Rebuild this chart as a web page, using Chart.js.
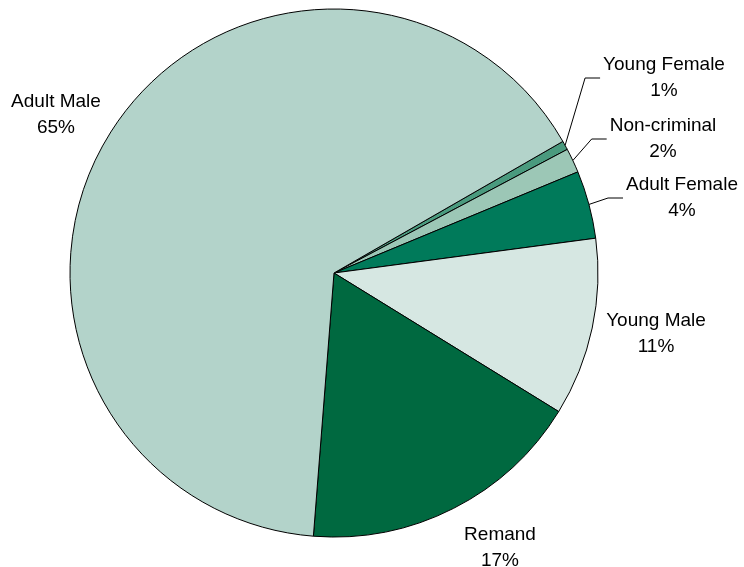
<!DOCTYPE html>
<html>
<head>
<meta charset="utf-8">
<script src="https://cdn.jsdelivr.net/npm/chart.js@4/dist/chart.umd.min.js"></script>
<style>
  body { margin: 0; background: #fff; }
  #wrap { width: 744px; height: 567px; }
</style>
</head>
<body>
<div id="wrap"><canvas id="prisonChart" width="744" height="567"></canvas></div>
<script>
// categories, clockwise from the thin slice at upper right
const categories = ["Young Female", "Non-criminal", "Adult Female", "Young Male", "Remand", "Adult Male"];
// share of population (%)
const shares = [0.55, 1.5, 4.15, 10.9, 17.45, 65.45];
const sliceColors = ['#4a9a7e', '#9cc7b6', '#007a5a', '#d6e7e2', '#006940', '#b3d3ca'];

// label block centre, relative to pie centre (px), and whether a leader line is drawn
const labelOffsets = [[330, -195], [329, -134], [348, -75], [322, 61], [166, 275], [-278, -158]];
const hasLeader = [true, true, true, false, false, false];

const labelPlugin = {
    id: 'pieLabels',
    afterDatasetsDraw(chart) {
        const ctx = chart.ctx;
        const meta = chart.getDatasetMeta(0);
        const total = shares.reduce((a, b) => a + b, 0);
        ctx.save();
        ctx.font = '19px "Liberation Sans", Arial, sans-serif';
        ctx.fillStyle = '#000';
        ctx.textAlign = 'center';
        ctx.textBaseline = 'middle';
        meta.data.forEach(function (arc, i) {
            const cx = arc.x, cy = arc.y, r = arc.outerRadius;
            const lx = cx + labelOffsets[i][0];
            const ly = cy + labelOffsets[i][1];
            const pct = Math.round(shares[i] / total * 100) + '%';
            ctx.fillText(categories[i], lx, ly - 13);
            ctx.fillText(pct, lx, ly + 13);

            if (hasLeader[i]) {
                const mid = (arc.startAngle + arc.endAngle) / 2;
                const w = ctx.measureText(categories[i]).width;
                const left = lx - w / 2;
                ctx.beginPath();
                ctx.strokeStyle = '#000';
                ctx.lineWidth = 1;
                ctx.moveTo(cx + Math.cos(mid) * r, cy + Math.sin(mid) * r);
                ctx.lineTo(left - 18, ly);
                ctx.lineTo(left - 3, ly);
                ctx.stroke();
            }
        });
        ctx.restore();
    }
};

const data = {
    labels: categories,
    datasets: [{
        data: shares,
        backgroundColor: sliceColors,
        borderColor: '#000',
        borderWidth: 1
    }]
};

const config = {
    type: 'pie',
    data: data,
    options: {
        responsive: false,
        animation: false,
        rotation: 60.1,
        radius: 264,
        layout: { padding: { left: 0, right: 76, top: 0, bottom: 21 } },
        plugins: {
            legend: { display: false },
            tooltip: { enabled: false }
        }
    },
    plugins: [labelPlugin]
};

const ctx = document.getElementById('prisonChart').getContext('2d');
const prisonChart = new Chart(ctx, config);
</script>
</body>
</html>
